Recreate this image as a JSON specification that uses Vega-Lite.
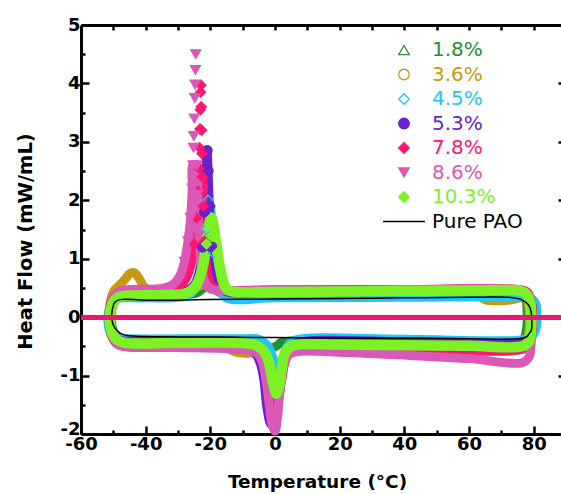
{
 "$schema": "https://vega.github.io/schema/vega-lite/v6.json",
 "width": 485, "height": 409,
 "autosize": {"type": "none"},
 "padding": {"left": 81, "top": 25, "right": -5, "bottom": 60},
 "background": "white",
 "config": {
  "view": {"stroke": null},
  "axis": {"grid": false, "domainColor": "black", "domainWidth": 3, "tickColor": "black", "tickWidth": 2.5, "labelFont": "DejaVu Sans", "labelFontWeight": "bold", "labelFontSize": 18, "labelColor": "black", "titleFont": "DejaVu Sans", "titleFontWeight": "bold", "titleColor": "black", "labelFlush": false, "labelOverlap": false},
  "legend": {"labelFont": "DejaVu Sans", "labelFontSize": 20, "labelOffset": 18, "rowPadding": 4.5, "padding": 0, "symbolSize": 110, "symbolStrokeWidth": 1.3, "labelLimit": 300}
 },
 "datasets": {"d": [
{"s":"1.8%","i":1,"T":77.8,"HF":0.25},{"s":"1.8%","i":2,"T":76.5,"HF":0.36},{"s":"1.8%","i":3,"T":74,"HF":0.39},{"s":"1.8%","i":4,"T":40,"HF":0.39},{"s":"1.8%","i":5,"T":0,"HF":0.38},{"s":"1.8%","i":6,"T":-15,"HF":0.38},{"s":"1.8%","i":7,"T":-18,"HF":0.45},{"s":"1.8%","i":8,"T":-20,"HF":0.58},{"s":"1.8%","i":9,"T":-21.5,"HF":0.53},{"s":"1.8%","i":10,"T":-24,"HF":0.42},{"s":"1.8%","i":11,"T":-30,"HF":0.37},{"s":"1.8%","i":12,"T":-45,"HF":0.36},{"s":"1.8%","i":13,"T":-48.5,"HF":0.33},{"s":"1.8%","i":14,"T":-50,"HF":0.22},{"s":"1.8%","i":15,"T":-50.7,"HF":0.05},{"s":"1.8%","i":16,"T":-50.5,"HF":-0.12},{"s":"1.8%","i":17,"T":-49.8,"HF":-0.27},{"s":"1.8%","i":18,"T":-48.3,"HF":-0.37},{"s":"1.8%","i":19,"T":-46,"HF":-0.41},{"s":"1.8%","i":20,"T":-20,"HF":-0.41},{"s":"1.8%","i":21,"T":-8,"HF":-0.41},{"s":"1.8%","i":22,"T":-4,"HF":-0.45},{"s":"1.8%","i":23,"T":-1.5,"HF":-0.53},{"s":"1.8%","i":24,"T":0.3,"HF":-0.5},{"s":"1.8%","i":25,"T":2,"HF":-0.43},{"s":"1.8%","i":26,"T":5,"HF":-0.41},{"s":"1.8%","i":27,"T":40,"HF":-0.42},{"s":"1.8%","i":28,"T":74,"HF":-0.43},{"s":"1.8%","i":29,"T":76.8,"HF":-0.38},{"s":"1.8%","i":30,"T":77.8,"HF":-0.2},{"s":"1.8%","i":31,"T":78,"HF":0.05},{"s":"1.8%","i":32,"T":77.8,"HF":0.25},
{"s":"3.6%","i":1,"T":78.2,"HF":0.25},{"s":"3.6%","i":2,"T":77,"HF":0.38},{"s":"3.6%","i":3,"T":75,"HF":0.32},{"s":"3.6%","i":4,"T":70,"HF":0.28},{"s":"3.6%","i":5,"T":65,"HF":0.3},{"s":"3.6%","i":6,"T":62,"HF":0.4},{"s":"3.6%","i":7,"T":58,"HF":0.44},{"s":"3.6%","i":8,"T":30,"HF":0.44},{"s":"3.6%","i":9,"T":0,"HF":0.43},{"s":"3.6%","i":10,"T":-15,"HF":0.43},{"s":"3.6%","i":11,"T":-18,"HF":0.5},{"s":"3.6%","i":12,"T":-20,"HF":0.64},{"s":"3.6%","i":13,"T":-21.5,"HF":0.66},{"s":"3.6%","i":14,"T":-23,"HF":0.55},{"s":"3.6%","i":15,"T":-26,"HF":0.46},{"s":"3.6%","i":16,"T":-32,"HF":0.44},{"s":"3.6%","i":17,"T":-38,"HF":0.44},{"s":"3.6%","i":18,"T":-40.5,"HF":0.52},{"s":"3.6%","i":19,"T":-42,"HF":0.66},{"s":"3.6%","i":20,"T":-43.5,"HF":0.76},{"s":"3.6%","i":21,"T":-45,"HF":0.74},{"s":"3.6%","i":22,"T":-46.5,"HF":0.64},{"s":"3.6%","i":23,"T":-48,"HF":0.55},{"s":"3.6%","i":24,"T":-49.8,"HF":0.45},{"s":"3.6%","i":25,"T":-50.8,"HF":0.3},{"s":"3.6%","i":26,"T":-51.3,"HF":0.1},{"s":"3.6%","i":27,"T":-51.2,"HF":-0.1},{"s":"3.6%","i":28,"T":-50.6,"HF":-0.3},{"s":"3.6%","i":29,"T":-49,"HF":-0.45},{"s":"3.6%","i":30,"T":-46.5,"HF":-0.5},{"s":"3.6%","i":31,"T":-30,"HF":-0.51},{"s":"3.6%","i":32,"T":-16,"HF":-0.52},{"s":"3.6%","i":33,"T":-12,"HF":-0.6},{"s":"3.6%","i":34,"T":-9,"HF":-0.62},{"s":"3.6%","i":35,"T":-6,"HF":-0.62},{"s":"3.6%","i":36,"T":-3.5,"HF":-0.75},{"s":"3.6%","i":37,"T":-1.5,"HF":-1.0},{"s":"3.6%","i":38,"T":0,"HF":-1.1},{"s":"3.6%","i":39,"T":1.5,"HF":-0.95},{"s":"3.6%","i":40,"T":3,"HF":-0.7},{"s":"3.6%","i":41,"T":5,"HF":-0.55},{"s":"3.6%","i":42,"T":10,"HF":-0.5},{"s":"3.6%","i":43,"T":40,"HF":-0.5},{"s":"3.6%","i":44,"T":74,"HF":-0.52},{"s":"3.6%","i":45,"T":77,"HF":-0.47},{"s":"3.6%","i":46,"T":78.5,"HF":-0.25},{"s":"3.6%","i":47,"T":78.7,"HF":0.05},{"s":"3.6%","i":48,"T":78.2,"HF":0.25},
{"s":"4.5%","i":1,"T":80.8,"HF":0.2},{"s":"4.5%","i":2,"T":79.5,"HF":0.31},{"s":"4.5%","i":3,"T":76,"HF":0.34},{"s":"4.5%","i":4,"T":40,"HF":0.34},{"s":"4.5%","i":5,"T":0,"HF":0.33},{"s":"4.5%","i":6,"T":-15,"HF":0.33},{"s":"4.5%","i":7,"T":-17.5,"HF":0.5},{"s":"4.5%","i":8,"T":-19,"HF":1.1},{"s":"4.5%","i":9,"T":-20,"HF":1.9},{"s":"4.5%","i":10,"T":-20.7,"HF":2.0},{"s":"4.5%","i":11,"T":-21.4,"HF":1.5},{"s":"4.5%","i":12,"T":-22.5,"HF":0.9},{"s":"4.5%","i":13,"T":-24,"HF":0.55},{"s":"4.5%","i":14,"T":-27,"HF":0.37},{"s":"4.5%","i":15,"T":-40,"HF":0.33},{"s":"4.5%","i":16,"T":-48.5,"HF":0.32},{"s":"4.5%","i":17,"T":-50.6,"HF":0.22},{"s":"4.5%","i":18,"T":-51.6,"HF":0.05},{"s":"4.5%","i":19,"T":-51.6,"HF":-0.12},{"s":"4.5%","i":20,"T":-50.9,"HF":-0.28},{"s":"4.5%","i":21,"T":-49.3,"HF":-0.36},{"s":"4.5%","i":22,"T":-46.5,"HF":-0.37},{"s":"4.5%","i":23,"T":-10,"HF":-0.37},{"s":"4.5%","i":24,"T":-5,"HF":-0.38},{"s":"4.5%","i":25,"T":-2.2,"HF":-0.5},{"s":"4.5%","i":26,"T":-0.5,"HF":-0.72},{"s":"4.5%","i":27,"T":0.8,"HF":-0.85},{"s":"4.5%","i":28,"T":2.2,"HF":-0.72},{"s":"4.5%","i":29,"T":3.8,"HF":-0.5},{"s":"4.5%","i":30,"T":6,"HF":-0.4},{"s":"4.5%","i":31,"T":40,"HF":-0.38},{"s":"4.5%","i":32,"T":76,"HF":-0.39},{"s":"4.5%","i":33,"T":79.5,"HF":-0.33},{"s":"4.5%","i":34,"T":80.8,"HF":-0.18},{"s":"4.5%","i":35,"T":81,"HF":0.02},{"s":"4.5%","i":36,"T":80.8,"HF":0.2},
{"s":"5.3%","i":1,"T":79.5,"HF":0.2},{"s":"5.3%","i":2,"T":78,"HF":0.4},{"s":"5.3%","i":3,"T":75,"HF":0.45},{"s":"5.3%","i":4,"T":40,"HF":0.44},{"s":"5.3%","i":5,"T":0,"HF":0.43},{"s":"5.3%","i":6,"T":-15,"HF":0.43},{"s":"5.3%","i":7,"T":-17,"HF":0.5},{"s":"5.3%","i":8,"T":-18.5,"HF":0.72},{"s":"5.3%","i":9,"T":-19.6,"HF":1.2},{"s":"5.3%","i":10,"T":-20.3,"HF":1.9},{"s":"5.3%","i":11,"T":-20.7,"HF":2.5},{"s":"5.3%","i":12,"T":-21,"HF":2.85},{"s":"5.3%","i":13,"T":-21.4,"HF":2.5},{"s":"5.3%","i":14,"T":-21.8,"HF":1.8},{"s":"5.3%","i":15,"T":-22.4,"HF":1.2},{"s":"5.3%","i":16,"T":-23.3,"HF":0.8},{"s":"5.3%","i":17,"T":-25,"HF":0.55},{"s":"5.3%","i":18,"T":-28,"HF":0.45},{"s":"5.3%","i":19,"T":-45,"HF":0.42},{"s":"5.3%","i":20,"T":-48.5,"HF":0.37},{"s":"5.3%","i":21,"T":-50.2,"HF":0.25},{"s":"5.3%","i":22,"T":-51,"HF":0.05},{"s":"5.3%","i":23,"T":-50.8,"HF":-0.13},{"s":"5.3%","i":24,"T":-50.1,"HF":-0.28},{"s":"5.3%","i":25,"T":-48.6,"HF":-0.38},{"s":"5.3%","i":26,"T":-46,"HF":-0.41},{"s":"5.3%","i":27,"T":-12,"HF":-0.41},{"s":"5.3%","i":28,"T":-8.5,"HF":-0.45},{"s":"5.3%","i":29,"T":-6,"HF":-0.62},{"s":"5.3%","i":30,"T":-4.5,"HF":-0.8},{"s":"5.3%","i":31,"T":-3.5,"HF":-1.05},{"s":"5.3%","i":32,"T":-2.5,"HF":-1.55},{"s":"5.3%","i":33,"T":-1.3,"HF":-1.83},{"s":"5.3%","i":34,"T":0,"HF":-1.6},{"s":"5.3%","i":35,"T":1.3,"HF":-1.1},{"s":"5.3%","i":36,"T":2.8,"HF":-0.75},{"s":"5.3%","i":37,"T":4.5,"HF":-0.55},{"s":"5.3%","i":38,"T":7,"HF":-0.44},{"s":"5.3%","i":39,"T":40,"HF":-0.42},{"s":"5.3%","i":40,"T":76.5,"HF":-0.44},{"s":"5.3%","i":41,"T":78.8,"HF":-0.35},{"s":"5.3%","i":42,"T":79.6,"HF":-0.15},{"s":"5.3%","i":43,"T":79.7,"HF":0.05},{"s":"5.3%","i":44,"T":79.5,"HF":0.2},
{"s":"7.8%","i":1,"T":79.3,"HF":0.25},{"s":"7.8%","i":2,"T":78,"HF":0.43},{"s":"7.8%","i":3,"T":75,"HF":0.475},{"s":"7.8%","i":4,"T":40,"HF":0.475},{"s":"7.8%","i":5,"T":0,"HF":0.47},{"s":"7.8%","i":6,"T":-17,"HF":0.47},{"s":"7.8%","i":7,"T":-19.5,"HF":0.53},{"s":"7.8%","i":8,"T":-21,"HF":0.8},{"s":"7.8%","i":9,"T":-21.8,"HF":1.3},{"s":"7.8%","i":10,"T":-22.2,"HF":1.9},{"s":"7.8%","i":11,"T":-22.45,"HF":2.4},{"s":"7.8%","i":12,"T":-22.6,"HF":2.8},{"s":"7.8%","i":13,"T":-22.7,"HF":3.2},{"s":"7.8%","i":14,"T":-22.8,"HF":3.6},{"s":"7.8%","i":15,"T":-22.9,"HF":3.97},{"s":"7.8%","i":16,"T":-23.0,"HF":3.85},{"s":"7.8%","i":17,"T":-23.1,"HF":3.55},{"s":"7.8%","i":18,"T":-23.2,"HF":3.22},{"s":"7.8%","i":19,"T":-23.35,"HF":2.9},{"s":"7.8%","i":20,"T":-23.5,"HF":2.55},{"s":"7.8%","i":21,"T":-23.8,"HF":2.15},{"s":"7.8%","i":22,"T":-24.3,"HF":1.7},{"s":"7.8%","i":23,"T":-25,"HF":1.25},{"s":"7.8%","i":24,"T":-26.2,"HF":0.85},{"s":"7.8%","i":25,"T":-28,"HF":0.62},{"s":"7.8%","i":26,"T":-31,"HF":0.5},{"s":"7.8%","i":27,"T":-45,"HF":0.46},{"s":"7.8%","i":28,"T":-48.6,"HF":0.42},{"s":"7.8%","i":29,"T":-50.4,"HF":0.29},{"s":"7.8%","i":30,"T":-51.3,"HF":0.08},{"s":"7.8%","i":31,"T":-51.2,"HF":-0.13},{"s":"7.8%","i":32,"T":-50.5,"HF":-0.32},{"s":"7.8%","i":33,"T":-49,"HF":-0.45},{"s":"7.8%","i":34,"T":-46.5,"HF":-0.5},{"s":"7.8%","i":35,"T":-20,"HF":-0.51},{"s":"7.8%","i":36,"T":-8,"HF":-0.52},{"s":"7.8%","i":37,"T":-4,"HF":-0.62},{"s":"7.8%","i":38,"T":-2,"HF":-0.9},{"s":"7.8%","i":39,"T":-0.6,"HF":-1.3},{"s":"7.8%","i":40,"T":0.8,"HF":-1.42},{"s":"7.8%","i":41,"T":2,"HF":-1.1},{"s":"7.8%","i":42,"T":3.2,"HF":-0.75},{"s":"7.8%","i":43,"T":5,"HF":-0.57},{"s":"7.8%","i":44,"T":8,"HF":-0.53},{"s":"7.8%","i":45,"T":40,"HF":-0.53},{"s":"7.8%","i":46,"T":76.5,"HF":-0.55},{"s":"7.8%","i":47,"T":78.8,"HF":-0.46},{"s":"7.8%","i":48,"T":79.5,"HF":-0.2},{"s":"7.8%","i":49,"T":79.6,"HF":0.05},{"s":"7.8%","i":50,"T":79.3,"HF":0.25},
{"s":"8.6%","i":1,"T":79.1,"HF":0.2},{"s":"8.6%","i":2,"T":77.8,"HF":0.41},{"s":"8.6%","i":3,"T":75,"HF":0.465},{"s":"8.6%","i":4,"T":40,"HF":0.465},{"s":"8.6%","i":5,"T":0,"HF":0.46},{"s":"8.6%","i":6,"T":-18,"HF":0.46},{"s":"8.6%","i":7,"T":-20.5,"HF":0.5},{"s":"8.6%","i":8,"T":-21.8,"HF":0.62},{"s":"8.6%","i":9,"T":-22.8,"HF":0.88},{"s":"8.6%","i":10,"T":-23.5,"HF":1.4},{"s":"8.6%","i":11,"T":-23.9,"HF":2.1},{"s":"8.6%","i":12,"T":-24.2,"HF":2.6},{"s":"8.6%","i":13,"T":-24.5,"HF":4.5},{"s":"8.6%","i":14,"T":-24.6,"HF":4.23},{"s":"8.6%","i":15,"T":-24.7,"HF":3.98},{"s":"8.6%","i":16,"T":-24.8,"HF":3.75},{"s":"8.6%","i":17,"T":-24.95,"HF":3.4},{"s":"8.6%","i":18,"T":-25.1,"HF":3.1},{"s":"8.6%","i":19,"T":-25.2,"HF":2.9},{"s":"8.6%","i":20,"T":-25.35,"HF":2.6},{"s":"8.6%","i":21,"T":-25.6,"HF":2.2},{"s":"8.6%","i":22,"T":-26.1,"HF":1.7},{"s":"8.6%","i":23,"T":-26.9,"HF":1.3},{"s":"8.6%","i":24,"T":-28.0,"HF":0.95},{"s":"8.6%","i":25,"T":-29.3,"HF":0.72},{"s":"8.6%","i":26,"T":-31.5,"HF":0.56},{"s":"8.6%","i":27,"T":-35,"HF":0.49},{"s":"8.6%","i":28,"T":-46,"HF":0.47},{"s":"8.6%","i":29,"T":-48.8,"HF":0.42},{"s":"8.6%","i":30,"T":-50.4,"HF":0.29},{"s":"8.6%","i":31,"T":-51.1,"HF":0.08},{"s":"8.6%","i":32,"T":-51,"HF":-0.13},{"s":"8.6%","i":33,"T":-50.3,"HF":-0.32},{"s":"8.6%","i":34,"T":-48.8,"HF":-0.45},{"s":"8.6%","i":35,"T":-46.5,"HF":-0.5},{"s":"8.6%","i":36,"T":-30,"HF":-0.52},{"s":"8.6%","i":37,"T":-12,"HF":-0.55},{"s":"8.6%","i":38,"T":-6,"HF":-0.6},{"s":"8.6%","i":39,"T":-4,"HF":-0.75},{"s":"8.6%","i":40,"T":-3,"HF":-1.0},{"s":"8.6%","i":41,"T":-2,"HF":-1.4},{"s":"8.6%","i":42,"T":-1,"HF":-1.8},{"s":"8.6%","i":43,"T":0,"HF":-1.95},{"s":"8.6%","i":44,"T":0.8,"HF":-1.7},{"s":"8.6%","i":45,"T":1.5,"HF":-1.25},{"s":"8.6%","i":46,"T":2.5,"HF":-0.88},{"s":"8.6%","i":47,"T":4,"HF":-0.66},{"s":"8.6%","i":48,"T":7,"HF":-0.59},{"s":"8.6%","i":49,"T":20,"HF":-0.6},{"s":"8.6%","i":50,"T":40,"HF":-0.65},{"s":"8.6%","i":51,"T":60,"HF":-0.71},{"s":"8.6%","i":52,"T":76.5,"HF":-0.78},{"s":"8.6%","i":53,"T":78.6,"HF":-0.68},{"s":"8.6%","i":54,"T":79.2,"HF":-0.45},{"s":"8.6%","i":55,"T":79.3,"HF":-0.1},{"s":"8.6%","i":56,"T":79.1,"HF":0.2},
{"s":"10.3%","i":1,"T":79,"HF":0.25},{"s":"10.3%","i":2,"T":77.5,"HF":0.41},{"s":"10.3%","i":3,"T":75,"HF":0.455},{"s":"10.3%","i":4,"T":60,"HF":0.455},{"s":"10.3%","i":5,"T":40,"HF":0.45},{"s":"10.3%","i":6,"T":20,"HF":0.44},{"s":"10.3%","i":7,"T":0,"HF":0.43},{"s":"10.3%","i":8,"T":-12,"HF":0.43},{"s":"10.3%","i":9,"T":-14.5,"HF":0.46},{"s":"10.3%","i":10,"T":-15.8,"HF":0.57},{"s":"10.3%","i":11,"T":-16.8,"HF":0.78},{"s":"10.3%","i":12,"T":-17.8,"HF":1.1},{"s":"10.3%","i":13,"T":-18.8,"HF":1.48},{"s":"10.3%","i":14,"T":-19.6,"HF":1.7},{"s":"10.3%","i":15,"T":-20.4,"HF":1.58},{"s":"10.3%","i":16,"T":-21.2,"HF":1.25},{"s":"10.3%","i":17,"T":-22.2,"HF":0.9},{"s":"10.3%","i":18,"T":-23.5,"HF":0.64},{"s":"10.3%","i":19,"T":-25,"HF":0.5},{"s":"10.3%","i":20,"T":-27.5,"HF":0.41},{"s":"10.3%","i":21,"T":-35,"HF":0.38},{"s":"10.3%","i":22,"T":-45,"HF":0.37},{"s":"10.3%","i":23,"T":-48.5,"HF":0.34},{"s":"10.3%","i":24,"T":-50.3,"HF":0.22},{"s":"10.3%","i":25,"T":-51.1,"HF":0.05},{"s":"10.3%","i":26,"T":-51,"HF":-0.12},{"s":"10.3%","i":27,"T":-50.3,"HF":-0.28},{"s":"10.3%","i":28,"T":-48.8,"HF":-0.39},{"s":"10.3%","i":29,"T":-46.5,"HF":-0.44},{"s":"10.3%","i":30,"T":-30,"HF":-0.44},{"s":"10.3%","i":31,"T":-12,"HF":-0.44},{"s":"10.3%","i":32,"T":-6.5,"HF":-0.47},{"s":"10.3%","i":33,"T":-3.8,"HF":-0.56},{"s":"10.3%","i":34,"T":-2.2,"HF":-0.72},{"s":"10.3%","i":35,"T":-1.2,"HF":-0.95},{"s":"10.3%","i":36,"T":-0.4,"HF":-1.18},{"s":"10.3%","i":37,"T":0.5,"HF":-1.31},{"s":"10.3%","i":38,"T":1.4,"HF":-1.15},{"s":"10.3%","i":39,"T":2.1,"HF":-0.88},{"s":"10.3%","i":40,"T":2.9,"HF":-0.64},{"s":"10.3%","i":41,"T":4.5,"HF":-0.51},{"s":"10.3%","i":42,"T":7,"HF":-0.47},{"s":"10.3%","i":43,"T":20,"HF":-0.47},{"s":"10.3%","i":44,"T":40,"HF":-0.48},{"s":"10.3%","i":45,"T":60,"HF":-0.49},{"s":"10.3%","i":46,"T":76.5,"HF":-0.5},{"s":"10.3%","i":47,"T":78.5,"HF":-0.42},{"s":"10.3%","i":48,"T":79.2,"HF":-0.22},{"s":"10.3%","i":49,"T":79.3,"HF":0.02},{"s":"10.3%","i":50,"T":79,"HF":0.25},
{"s":"Pure PAO","i":1,"T":79.3,"HF":0.07},{"s":"Pure PAO","i":2,"T":78.5,"HF":0.2},{"s":"Pure PAO","i":3,"T":76.2,"HF":0.3},{"s":"Pure PAO","i":4,"T":73,"HF":0.335},{"s":"Pure PAO","i":5,"T":60,"HF":0.34},{"s":"Pure PAO","i":6,"T":40,"HF":0.33},{"s":"Pure PAO","i":7,"T":20,"HF":0.32},{"s":"Pure PAO","i":8,"T":0,"HF":0.31},{"s":"Pure PAO","i":9,"T":-20,"HF":0.3},{"s":"Pure PAO","i":10,"T":-40,"HF":0.29},{"s":"Pure PAO","i":11,"T":-48,"HF":0.3},{"s":"Pure PAO","i":12,"T":-49.6,"HF":0.25},{"s":"Pure PAO","i":13,"T":-50.3,"HF":0.13},{"s":"Pure PAO","i":14,"T":-50.5,"HF":0.0},{"s":"Pure PAO","i":15,"T":-50.1,"HF":-0.12},{"s":"Pure PAO","i":16,"T":-49,"HF":-0.22},{"s":"Pure PAO","i":17,"T":-47.3,"HF":-0.29},{"s":"Pure PAO","i":18,"T":-45,"HF":-0.32},{"s":"Pure PAO","i":19,"T":-20,"HF":-0.34},{"s":"Pure PAO","i":20,"T":0,"HF":-0.35},{"s":"Pure PAO","i":21,"T":20,"HF":-0.36},{"s":"Pure PAO","i":22,"T":40,"HF":-0.36},{"s":"Pure PAO","i":23,"T":60,"HF":-0.37},{"s":"Pure PAO","i":24,"T":75,"HF":-0.37},{"s":"Pure PAO","i":25,"T":77.7,"HF":-0.34},{"s":"Pure PAO","i":26,"T":78.6,"HF":-0.28},{"s":"Pure PAO","i":27,"T":79.3,"HF":-0.22},{"s":"Pure PAO","i":28,"T":79.3,"HF":0.07}
 ]},
 "data": {"name": "d"},
 "resolve": {"axis": {"x": "independent", "y": "independent"}},
 "layer": [
  {
   "transform": [{"filter": "datum.s !== 'Pure PAO' && !((datum.s === '8.6%' || datum.s === '7.8%') && datum.HF > 2.65)"}],
   "mark": {"type": "line", "interpolate": "catmull-rom", "strokeCap": "round", "strokeJoin": "round"},
   "encoding": {
    "x": {"field": "T", "type": "quantitative", "scale": {"domain": [-60, 90], "nice": false, "zero": false},
      "axis": {"orient": "bottom", "values": [-60, -40, -20, 0, 20, 40, 60, 80], "tickSize": -8, "labelPadding": 9, "labelExpr": "datum.value < 0 ? '-' + abs(datum.value) : '' + datum.value", "title": "Temperature (°C)", "titleFontSize": 18.5, "titleX": 236, "titleY": 53, "titleAlign": "center", "titleBaseline": "alphabetic"}},
    "y": {"field": "HF", "type": "quantitative", "scale": {"domain": [-2, 5], "nice": false, "zero": false},
      "axis": {"orient": "left", "values": [-2, -1, 0, 1, 2, 3, 4, 5], "tickSize": -8, "labelPadding": 9, "labelBaseline": {"condition": {"test": "datum.value === -2", "value": "alphabetic"}, "value": "middle"}, "labelExpr": "datum.value < 0 ? '-' + abs(datum.value) : '' + datum.value", "title": "Heat Flow (mW/mL)", "titleFontSize": 19.5, "titleX": -50, "titleY": 216, "titleAlign": "center", "titleBaseline": "alphabetic"}},
    "stroke": {"field": "s", "type": "nominal",
      "scale": {"domain": ["1.8%", "3.6%", "4.5%", "5.3%", "7.8%", "8.6%", "10.3%", "Pure PAO"], "range": ["#22912f", "#c49a12", "#22c5f2", "#6a22cc", "#ff1670", "#d958b8", "#7cf224", "#000000"]},
      "legend": {"title": null, "orient": "none", "legendX": 313, "legendY": 15, "encode": {"labels": {"update": {"fill": {"scale": "stroke", "field": "value"}}}}}},
    "strokeWidth": {"condition": {"test": "datum.s === '10.3%'", "value": 10.5}, "value": 9},
    "order": {"field": "i", "type": "quantitative"}
   }
  },
  {
   "transform": [{"filter": "datum.s !== 'Pure PAO' && datum.HF > 0.9"}],
   "mark": {"type": "point", "size": 100, "strokeWidth": 1.3, "opacity": 1},
   "encoding": {
    "x": {"field": "T", "type": "quantitative", "axis": {"orient": "bottom", "values": [-50, -30, -10, 10, 30, 50, 70], "tickSize": -4, "labels": false, "domain": false, "title": null}},
    "y": {"field": "HF", "type": "quantitative", "axis": {"orient": "left", "values": [-1.5, -0.5, 0.5, 1.5, 2.5, 3.5, 4.5], "tickSize": -4, "labels": false, "domain": false, "title": null}},
    "stroke": {"field": "s", "type": "nominal",
      "scale": {"domain": ["1.8%", "3.6%", "4.5%", "5.3%", "7.8%", "8.6%", "10.3%", "Pure PAO"], "range": ["#22912f", "#c49a12", "#22c5f2", "#6a22cc", "#ff1670", "#d958b8", "#7cf224", "#000000"]},
      "legend": {"title": null, "orient": "none", "legendX": 313, "legendY": 15, "encode": {"labels": {"update": {"fill": {"scale": "stroke", "field": "value"}}}}}},
    "fill": {"field": "s", "type": "nominal",
      "scale": {"domain": ["1.8%", "3.6%", "4.5%", "5.3%", "7.8%", "8.6%", "10.3%", "Pure PAO"], "range": ["transparent", "transparent", "transparent", "#6a22cc", "#ff1670", "#d958b8", "#7cf224", "transparent"]},
      "legend": {"title": null, "orient": "none", "legendX": 313, "legendY": 15, "encode": {"labels": {"update": {"fill": {"scale": "stroke", "field": "value"}}}}}},
    "shape": {"field": "s", "type": "nominal",
      "scale": {"domain": ["1.8%", "3.6%", "4.5%", "5.3%", "7.8%", "8.6%", "10.3%", "Pure PAO"], "range": ["triangle-up", "circle", "diamond", "circle", "diamond", "triangle-down", "diamond", "M-4,0H4"]},
      "legend": {"title": null, "orient": "none", "legendX": 313, "legendY": 15, "encode": {"labels": {"update": {"fill": {"scale": "stroke", "field": "value"}}}}}}
   }
  },
  {
   "transform": [{"filter": "datum.s === 'Pure PAO'"}],
   "mark": {"type": "line", "color": "#000000", "strokeWidth": 1.5, "interpolate": "catmull-rom"},
   "encoding": {
    "x": {"field": "T", "type": "quantitative", "axis": {"orient": "top", "values": [-50, -40, -30, -20, -10, 0, 10, 20, 30, 40, 50, 60, 70, 80], "tickSize": -5, "labels": false, "title": null}},
    "y": {"field": "HF", "type": "quantitative", "axis": {"orient": "right", "values": [-2, -1, 0, 1, 2, 3, 4, 5], "tickSize": -8, "labels": false, "title": null}},
    "order": {"field": "i", "type": "quantitative"}
   }
  },
  {
   "transform": [{"filter": "datum.s === 'Pure PAO'"}],
   "mark": {"type": "point", "opacity": 0},
   "encoding": {
    "x": {"field": "T", "type": "quantitative", "axis": null},
    "y": {"field": "HF", "type": "quantitative", "axis": {"orient": "right", "values": [-1.5, -0.5, 0.5, 1.5, 2.5, 3.5, 4.5], "tickSize": -4, "labels": false, "domain": false, "title": null}}
   }
  },
  {
   "mark": {"type": "rule", "color": "#f0127a", "strokeWidth": 4.5},
   "encoding": {"y": {"datum": 0, "axis": null}}
  }
 ]
}
